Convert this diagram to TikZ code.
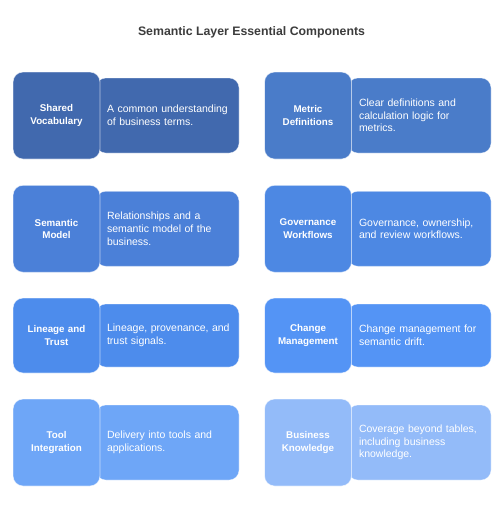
\documentclass[tikz,border=0pt]{standalone}
\usepackage{fontspec}
\setmainfont{Liberation Sans}
\usepackage{xcolor}
\usepackage{tikz}
\usetikzlibrary{positioning}

\definecolor{titlegray}{HTML}{3C3C3C}
\definecolor{vocab}{HTML}{4169AE}
\definecolor{metric}{HTML}{4A7CC9}
\definecolor{model}{HTML}{4B80D8}
\definecolor{govern}{HTML}{4D88E3}
\definecolor{lineage}{HTML}{4D8CEC}
\definecolor{change}{HTML}{5494F5}
\definecolor{tool}{HTML}{6EA6F7}
\definecolor{know}{HTML}{93BBF9}

\begin{document}
\begin{tikzpicture}[
    x=1pt, y=-1pt,
    keybox/.style={rectangle, rounded corners=10pt, draw=white, draw opacity=0.6, line width=0.8pt,
                minimum width=87pt, minimum height=87pt, text width=80pt, align=center,
                text=white, font=\fontsize{9.8}{12.5}\selectfont\bfseries, inner sep=0pt},
    descbox/.style={rectangle, rounded corners=10pt, draw=white, draw opacity=0.4, line width=0.6pt,
                minimum width=143pt, minimum height=75pt, text width=121pt, align=left,
                text=white, font=\fontsize{10.5}{12.7}\selectfont, inner sep=0pt},
    short/.style={minimum height=#1}
]
    \useasboundingbox (0,0) rectangle (503,512);

    \node[font=\fontsize{12.3}{15}\selectfont\bfseries, text=titlegray] (title) at (251.5, 32)
        {Semantic Layer Essential Components};

    % Row 1
    \node[descbox, fill=vocab] (vocabtxt) at (167.5, 115.5) {A common understanding\\of business terms.};
    \node[keybox, fill=vocab] (vocab) at (56.5, 115.5) {Shared\\Vocabulary};
    \node[descbox, fill=metric] (metrictxt) at (419.5, 115.5) {Clear definitions and\\calculation logic for\\metrics.};
    \node[keybox, fill=metric] (metric) at (308, 115.5) {Metric\\Definitions};

    % Row 2
    \node[descbox, fill=model] (modeltxt) at (167.5, 228.75) {Relationships and a\\semantic model of the\\business.};
    \node[keybox, fill=model] (model) at (56.5, 228.75) {Semantic\\Model};
    \node[descbox, fill=govern] (governtxt) at (419.5, 228.75) {Governance, ownership,\\and review workflows.};
    \node[keybox, fill=govern] (govern) at (308, 228.75) {Governance\\Workflows};

    % Row 3 (shorter cards)
    \node[descbox, short=63pt, fill=lineage] (lineagetxt) at (167.5, 335.5) {\mbox{Lineage, provenance, and}\\trust signals.};
    \node[keybox, short=75pt, fill=lineage] (lineage) at (56.5, 335.5) {Lineage and\\Trust};
    \node[descbox, short=63pt, fill=change] (changetxt) at (419.5, 335.5) {Change management for\\semantic drift.};
    \node[keybox, short=75pt, fill=change] (change) at (308, 335.5) {Change\\Management};

    % Row 4
    \node[descbox, fill=tool] (tooltxt) at (167.5, 442.5) {Delivery into tools and\\applications.};
    \node[keybox, fill=tool] (tool) at (56.5, 442.5) {Tool\\Integration};
    \node[descbox, fill=know] (knowtxt) at (419.5, 442.5) {Coverage beyond tables,\\including business\\knowledge.};
    \node[keybox, fill=know] (know) at (308, 442.5) {Business\\Knowledge};
\end{tikzpicture}
\end{document}
